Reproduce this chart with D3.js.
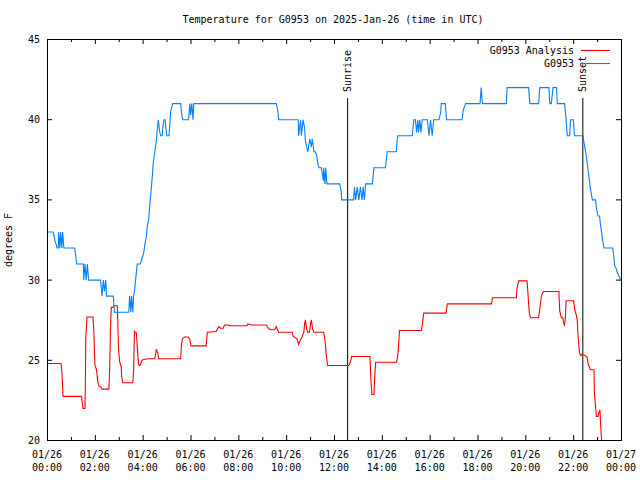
<!DOCTYPE html>
<html><head><meta charset="utf-8">
<script src="https://cdn.jsdelivr.net/npm/d3@7"></script>
<style>
body{margin:0;background:#fff}
text{font-family:"DejaVu Sans Mono",monospace;font-size:10px;fill:#000}
</style>
</head><body>
<svg id="c" width="640" height="480"></svg>
<script>
const title = "Temperature for G0953 on 2025-Jan-26 (time in UTC)";
const yLabel = "degrees F";
const yTicks = [20, 25, 30, 35, 40, 45];
const xMajorTicks = [0, 120, 240, 360, 480, 600, 720, 840, 960, 1080, 1200, 1320, 1440];
const xTickDates = ["01/26","01/26","01/26","01/26","01/26","01/26","01/26","01/26","01/26","01/26","01/26","01/26","01/27"];
const xTickTimes = ["00:00","02:00","04:00","06:00","08:00","10:00","12:00","14:00","16:00","18:00","20:00","22:00","00:00"];
const seriesNames = ["G0953 Analysis", "G0953"];
const seriesColors = ["#ff0000", "#0080ff"];
const eventNames = ["Sunrise", "Sunset"];
const eventMinutes = [753, 1343];

// G0953 observations (minutes after 00:00 UTC, degrees F)
const blueMinutes = [
  0,14,17,19,22,24,27,28,31,33,36,38,41,
  68,71,73,90,
  91,94,97,100,103,133,
  137,140,143,146,148,154,165,168,
  204,206,209,211,214,216,
  218,221,225,233,236,239,
  242,244,248,250,254,257,260,263,265,268,271,273,275,
  278,281,284,288,289,292,295,297,299,305,307,309,314,
  334,336,339,354,357,359,362,365,367,
  574,578,580,629,
  630,635,637,641,645,647,650,653,658,662,664,667,668,672,675,678,681,687,689,692,693,696,698,701,
  733,737,738,768,770,773,777,781,785,789,792,795,798,
  815,817,819,848,850,852,875,877,879,
  915,917,919,923,926,929,931,934,937,
  940,953,957,961,965,969,982,986,988,998,1001,
  1040,1043,1049,1085,1088,1091,1151,1153,1207,1210,
  1232,1235,1258,1260,1264,1268,1277,1279,
  1297,1300,1304,1310,1312,1319,1322,
  1344,1345,1350,1354,1358,1362,1367,
  1375,1377,1381,1385,1387,1390,1393,1396,
  1418,1421,1423,1427,1429,1433,1438,1440];
const blueValues = [
  33,33,32.7,32.4,32.2,32,32,33,32,33,32,33,32,
  32,31.5,31,31,
  30,31,30,31,30,30,
  29,30,29.3,30,29,29,29,28,
  28,29,28,29,28,29,
  29.3,30,31,31,31.3,31.5,
  31.8,32.2,32.7,33.3,33.8,34.8,35.6,36.5,37.2,37.8,38.3,38.7,39.3,
  40,39.3,39,39,39.5,40,40,39.5,39,39,39.8,40.5,41,
  41,40.5,40,40,41,40.3,41,40,41,
  41,40.5,40,40,
  39,40,39,40,39.5,38.7,38.3,38,38.8,38.3,38.8,38.3,38,38,37.8,37.3,37,37,36.7,36.2,37,36,37,36,
  36,35.5,35,35,35.8,35,35.8,35,35.8,35,35.8,35,36,
  36,36.5,37,37,37.5,38,38,38.7,39,
  39,39.5,40,40,39.2,40,39.2,40,39.2,
  40,40,39,40,39,40,40,40.4,41,41,40,
  40,40.6,41,41,42,41,41,42,42,41,
  41,42,42,41,41,42,42,41,
  41,40.3,39,39,40,40,39,
  39,38.7,38,37.3,36.5,35.7,35,
  35,34.5,34,34,33.5,33,32.4,32,
  32,31.4,30.9,30.7,30.5,30.3,30,30];

// G0953 Analysis (minutes after 00:00 UTC, degrees F)
const redMinutes = [
  0,34,36,38,39,
  85,86,89,94,95,96,99,
  114,116,118,119,123,126,129,133,137,
  154,156,158,160,165,166,175,176,178,181,185,186,189,
  214,216,218,221,223,227,229,233,236,240,254,269,272,273,277,279,
  334,336,339,344,353,357,360,398,401,423,426,430,434,441,444,455,457,
  501,503,511,549,553,555,561,570,574,576,580,
  614,616,622,626,630,635,639,643,645,647,650,653,657,660,662,665,668,693,696,697,699,702,703,
  756,758,762,763,809,810,812,814,819,820,823,
  875,877,880,883,938,942,944,
  1000,1003,1114,1116,1176,1178,1182,1203,1205,1207,1209,1212,1232,1235,1239,1244,
  1283,1285,1289,1293,1295,1297,1299,1301,1320,1323,1326,1329,1331,1335,1338,1341,1344,1348,1354,1356,1362,1371,1372,1377,1381,1383,1386,1387,1389,1392];
const redValues = [
  24.8,24.8,24.3,23.3,22.75,
  22.75,22.6,22,22,23.4,26.3,27.7,
  27.7,26.9,25.4,24.7,24.4,23.7,23.4,23.35,23.2,
  23.2,24.5,27,28.3,28.3,28.4,28.4,27.6,25.8,24.9,24.6,24,23.6,
  23.6,24.4,26.8,26.7,26.7,25.2,24.7,24.7,24.95,25.05,25.1,25.1,25.5,25.7,25.4,25.1,
  25.1,26,26.35,26.45,26.45,26.3,25.9,25.9,26.75,26.8,26.95,27.1,27,27,27.2,27.2,27.15,
  27.15,27.27,27.2,27.2,27.05,26.96,26.9,26.9,27.1,26.95,26.75,
  26.75,26.5,26.4,26.35,26,26.3,26.5,26.75,27.27,27.52,26.96,26.75,26.75,27.27,27.52,26.96,26.75,26.75,26.3,26.03,25.4,24.8,24.68,
  24.68,24.75,25.1,25.24,25.24,24.57,23.5,22.87,22.87,23.5,24.88,
  24.88,25,25.6,26.86,26.86,27.58,27.94,
  27.94,28.52,28.52,28.9,28.9,29.5,29.95,29.95,29.3,28.5,27.9,27.65,27.65,28.2,29,29.29,
  29.29,28.1,27.65,27.65,27.3,27.2,27.6,28.71,28.71,28.1,27.9,27.48,26.5,25.4,25.3,25.4,25.35,25.3,25.2,24.8,24.41,24.41,23,21.5,21.5,21.7,21.91,21.3,20.4,19.5];

const svg = d3.select("#c");
const L = 47, R = 621, T = 39, B = 440;
const x = d3.scaleLinear().domain([0, 1440]).range([L, R]);
const y = d3.scaleLinear().domain([20, 45]).range([B, T]);
const xMinor = d3.range(60, 1440, 120);

// title
svg.append("text").attr("x", 333).attr("y", 23).attr("text-anchor", "middle").text(title);

// y label
svg.append("text").attr("transform", "translate(12,240) rotate(-90)")
  .attr("text-anchor", "middle").text(yLabel);

svg.append("clipPath").attr("id", "pc").append("rect")
  .attr("x", L).attr("y", T).attr("width", R - L + 1).attr("height", B - T);

// axes (ticks inward, mirrored)
function styleAxis(g) {
  g.select(".domain").remove();
  g.selectAll("line").attr("stroke", "#000");
}
svg.append("g").attr("transform", `translate(0,${B})`)
  .call(d3.axisBottom(x).tickValues(xMajorTicks).tickSizeInner(-5).tickSizeOuter(0).tickFormat(""))
  .call(styleAxis);
svg.append("g").attr("transform", `translate(0,${B})`)
  .call(d3.axisBottom(x).tickValues(xMinor).tickSizeInner(-3).tickSizeOuter(0).tickFormat(""))
  .call(styleAxis);
svg.append("g").attr("transform", `translate(0,${T})`)
  .call(d3.axisTop(x).tickValues(xMajorTicks).tickSizeInner(-5).tickSizeOuter(0).tickFormat(""))
  .call(styleAxis);
svg.append("g").attr("transform", `translate(0,${T})`)
  .call(d3.axisTop(x).tickValues(xMinor).tickSizeInner(-3).tickSizeOuter(0).tickFormat(""))
  .call(styleAxis);
svg.append("g").attr("transform", `translate(${L},0)`)
  .call(d3.axisLeft(y).tickValues(yTicks).tickSizeInner(-5).tickSizeOuter(0).tickFormat(""))
  .call(styleAxis);
svg.append("g").attr("transform", `translate(${R},0)`)
  .call(d3.axisRight(y).tickValues(yTicks).tickSizeInner(-5).tickSizeOuter(0).tickFormat(""))
  .call(styleAxis);

// tick labels
svg.append("g").selectAll("text").data(yTicks).join("text")
  .attr("x", 40).attr("y", d => y(d) + 4).attr("text-anchor", "end").text(d => d);
const xl = svg.append("g").selectAll("text").data(xMajorTicks).join("text")
  .attr("text-anchor", "middle");
xl.append("tspan").attr("x", d => x(d)).attr("y", 458).text((d, i) => xTickDates[i]);
xl.append("tspan").attr("x", d => x(d)).attr("y", 471).text((d, i) => xTickTimes[i]);

// frame
svg.append("rect").attr("x", L + 0.5).attr("y", T + 0.5).attr("width", R - L).attr("height", B - T)
  .attr("fill", "none").attr("stroke", "#000").attr("stroke-width", 1);

// sunrise / sunset
eventMinutes.forEach((m, i) => {
  svg.append("line").attr("x1", x(m) + 0.5).attr("x2", x(m) + 0.5)
    .attr("y1", 98).attr("y2", B).attr("stroke", "#000").attr("stroke-width", 1);
  svg.append("text").attr("transform", `translate(${x(m) + 4},92) rotate(-90)`)
    .attr("text-anchor", "start").text(eventNames[i]);
});

// series
const line = d3.line().x(d => x(d[0]) + 0.5).y(d => y(d[1]) + 0.5);
const redData = redMinutes.map((m, i) => [m, redValues[i]]);
const blueData = blueMinutes.map((m, i) => [m, blueValues[i]]);
const plot = svg.append("g").attr("clip-path", "url(#pc)");
plot.append("path").datum(redData).attr("d", line)
  .attr("fill", "none").attr("stroke", seriesColors[0]).attr("stroke-width", 1.1);
plot.append("path").datum(blueData).attr("d", line)
  .attr("fill", "none").attr("stroke", seriesColors[1]).attr("stroke-width", 1.1);

// legend
seriesNames.forEach((n, i) => {
  const ly = 50 + i * 13;
  svg.append("text").attr("x", 574).attr("y", ly + 4).attr("text-anchor", "end").text(n);
  svg.append("line").attr("x1", 581).attr("x2", 610).attr("y1", ly + 0.5).attr("y2", ly + 0.5)
    .attr("stroke", seriesColors[i]).attr("stroke-width", 1.1);
});
</script>
</body></html>
